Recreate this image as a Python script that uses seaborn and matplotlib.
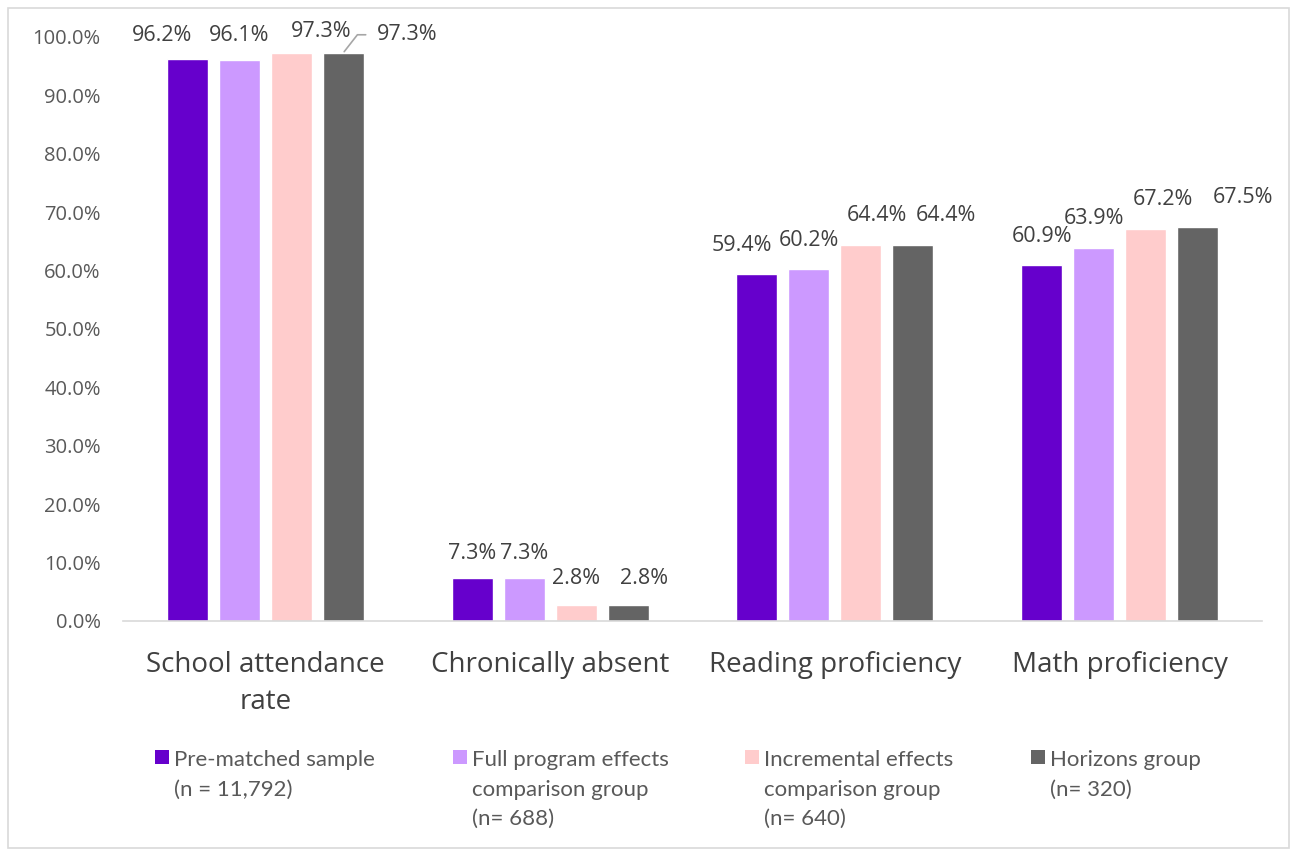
import matplotlib
matplotlib.use("Agg")
import matplotlib.pyplot as plt
from matplotlib.patches import Patch, Rectangle
import seaborn as sns
import pandas as pd

categories = ["School attendance\nrate", "Chronically absent", "Reading proficiency", "Math proficiency"]
groups = ["Pre-matched sample", "Full program effects", "Incremental effects", "Horizons group"]
legend_labels = ["Pre-matched sample\n(n = 11,792)",
                 "Full program effects\ncomparison group\n(n= 688)",
                 "Incremental effects\ncomparison group\n(n= 640)",
                 "Horizons group\n(n= 320)"]
pre_matched = [96.2, 7.3, 59.4, 60.9]
full_program = [96.1, 7.3, 60.2, 63.9]
incremental = [97.3, 2.8, 64.4, 67.2]
horizons = [97.3, 2.8, 64.4, 67.5]
yticks = [0, 10, 20, 30, 40, 50, 60, 70, 80, 90, 100]
colors = ["#6600CC", "#CC99FF", "#FFCCCC", "#646464"]

# label nudges (pixels) as placed in the original chart: [group][category]
label_dx = [[-25, 0, -15, 0],
            [0, 0, 0, 0],
            [30, 0, 16, 17],
            [34, 16, 33, 45]]
label_dy = [[24, 25, 29, 29],
            [24, 25, 29, 29],
            [21, 26, 29, 29],
            [18, 26, 29, 29]]

series = [pre_matched, full_program, incremental, horizons]
rows = []
for g, vals in zip(groups, series):
    for c, v in zip(categories, vals):
        rows.append({"category": c, "group": g, "value": v})
df = pd.DataFrame(rows)

sns.set_style("white")
plt.rcParams["font.family"] = ["Open Sans", "DejaVu Sans"]

W, H = 1291, 850
PX = 72 / 100  # points per pixel
fig = plt.figure(figsize=(W / 100, H / 100), dpi=100)
ax = fig.add_axes([123 / W, 1 - 621 / H, (1262 - 123) / W, (621 - 37) / H])

sns.barplot(data=df, x="category", y="value", hue="group", hue_order=groups,
            order=categories, palette=colors, saturation=1, width=0.73, gap=0.21,
            legend=False, ax=ax)

ax.set_ylim(0, 100)
ax.set_yticks(yticks)
ax.set_yticklabels([f"{t:.1f}%" for t in yticks])
ax.set_xlabel("")
ax.set_ylabel("")
for s in ["top", "right", "left"]:
    ax.spines[s].set_visible(False)
ax.spines["bottom"].set_color("#d9d9d9")
ax.spines["bottom"].set_linewidth(1.2)
ax.tick_params(axis="y", length=0, pad=16, labelsize=14.5, labelcolor="#595959")
ax.tick_params(axis="x", length=0, pad=21.5, labelsize=20, labelcolor="#404040")
for t in ax.get_xticklabels():
    t.set_linespacing(1.45)

for gi, cont in enumerate(ax.containers):
    for ci, bar in enumerate(cont):
        bx = bar.get_x() + bar.get_width() / 2
        by = bar.get_height()
        txt = f"{series[gi][ci]:.1f}%"
        if gi == 3 and ci == 0:
            ax.annotate(txt, xy=(bx, by), xytext=(label_dx[gi][ci] * PX, label_dy[gi][ci] * PX),
                        textcoords="offset points", ha="left", va="center",
                        fontsize=15.5, color="#404040",
                        arrowprops=dict(arrowstyle="-", color="#a6a6a6", lw=1.2,
                                        connectionstyle="angle,angleA=180,angleB=52,rad=0",
                                        relpos=(0, 0.5), shrinkA=6, shrinkB=1))
        else:
            ax.annotate(txt, xy=(bx, by), xytext=(label_dx[gi][ci] * PX, label_dy[gi][ci] * PX),
                        textcoords="offset points", ha="center", va="center",
                        fontsize=15.5, color="#404040")

# Legend: one entry per column
leg_x = [155, 453, 745, 1031]
leg_y = 750
for c, lab, x in zip(colors, legend_labels, leg_x):
    leg = fig.legend(handles=[Patch(facecolor=c, edgecolor="none")], labels=[lab],
                     loc="upper left", bbox_to_anchor=(x / W, 1 - leg_y / H),
                     frameon=False, handlelength=0.62, handleheight=0.62,
                     handletextpad=0.25, borderpad=0, borderaxespad=0,
                     labelcolor="#595959",
                     prop={"family": ["Lato", "DejaVu Sans"], "size": 16})
    for t in leg.get_texts():
        t.set_linespacing(1.6)
    try:
        for col in leg._legend_handle_box.get_children():
            for hp in col.get_children():
                hp.align = "top"
    except Exception:
        pass

fig.patches.append(Rectangle((8 / W, 2 / H), (1289 - 8) / W, (842 - 2) / H,
                             transform=fig.transFigure, fill=False,
                             edgecolor="#d9d9d9", lw=1.2))

fig.savefig("out.png", dpi=100, facecolor="white")
